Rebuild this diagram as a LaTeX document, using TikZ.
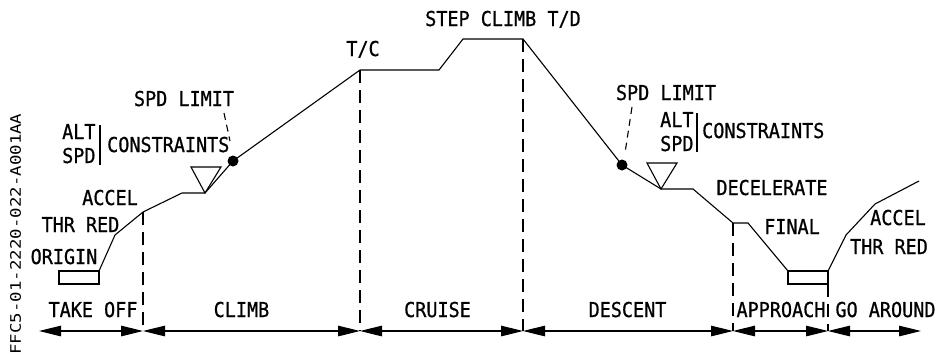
\documentclass[tikz,border=0pt]{standalone}
\usepackage{fontspec}
\newfontfamily\cadfont{DejaVu Sans Mono}[FakeStretch=0.9,FakeBold=0.8]
\newfontfamily\tagfont{DejaVu Sans Mono}[FakeStretch=1.2]
\usetikzlibrary{arrows.meta}

\begin{document}
\begin{tikzpicture}[x=1pt,y=-1pt,>={Triangle[length=22pt,width=10.5pt]},profile/.style={line width=1.1pt},guide/.style={line width=1.2pt,dash pattern=on 13pt off 7pt},leader/.style={line width=1.1pt,dash pattern=on 7pt off 5pt},phase/.style={<->,line width=1.2pt},label/.style={font=\cadfont\fontsize{20.5}{24}\selectfont,inner sep=0pt,anchor=base},yieldmark/.style={line width=1.1pt},dot/.style={fill=black}]
\useasboundingbox (0,0) rectangle (938,360);
% flight profile
\coordinate (O1) at (59,271); \coordinate (O2) at (99,271); \coordinate (O3) at (99,284);
\coordinate (TR) at (115,235); \coordinate (AC) at (143,212); \coordinate (C1) at (182,193); \coordinate (C2) at (205,193);
\coordinate (SL1) at (233,161); \coordinate (TC) at (360,70); \coordinate (S1) at (439,70); \coordinate (S2) at (463,39); \coordinate (TD) at (523,39);
\coordinate (SL2) at (622,165); \coordinate (D1) at (661,189); \coordinate (D2) at (693,189); \coordinate (AP) at (733,223); \coordinate (F1) at (748,223);
\coordinate (L1) at (788,271); \coordinate (L2) at (828,271); \coordinate (L3) at (828,284); \coordinate (G1) at (846,235); \coordinate (G2) at (875,204); \coordinate (G3) at (919,181);
\draw[profile] (O1) rectangle (O3); \draw[profile] (L1) rectangle (L3);
\draw[profile] (O2)--(TR)--(AC)--(C1)--(C2)--(SL1)--(TC)--(S1)--(S2)--(TD)--(SL2)--(D1)--(D2)--(AP)--(F1)--(L1);
\draw[profile] (L2)--(G1)--(G2)--(G3);
\draw[yieldmark] (191,167)--(221,167)--(C2)--cycle; \draw[yieldmark] (647,163)--(677,163)--(D1)--cycle;
\fill[dot] (SL1) circle[radius=5.5pt]; \fill[dot] (SL2) circle[radius=5.5pt];
% phase limits
\coordinate (P0) at (39,331); \coordinate (P1) at (143,331); \coordinate (P2) at (360,331); \coordinate (P3) at (523,331);
\coordinate (P4) at (733,331); \coordinate (P5) at (828,331); \coordinate (P6) at (921,331);
\draw[guide] (AC)--(P1); \draw[guide] (TC)--(P2); \draw[guide] (TD)--(P3); \draw[guide] (AP)--(P4); \draw[guide] (L3)--(P5);
\draw[phase] (P0)--(P1); \draw[phase] (P1)--(P2); \draw[phase] (P2)--(P3); \draw[phase] (P3)--(P4); \draw[phase] (P4)--(P5); \draw[phase] (P5)--(P6);
\node[label] (takeoff) at (93,317) {TAKE OFF}; \node[label] (climb) at (241.5,317) {CLIMB}; \node[label] (cruise) at (437.5,317) {CRUISE};
\node[label] (descent) at (627.5,317) {DESCENT}; \node[label] (approach) at (781,317) {APPROACH}; \node[label] (goaround) at (885.5,317) {GO AROUND};
% profile labels
\node[label] (tclabel) at (363,56) {T/C}; \node[label] (steplabel) at (503,26) {STEP CLIMB T/D};
\node[label] (origin) at (64,264) {ORIGIN}; \node[label] (thrred1) at (80.5,232) {THR RED}; \node[label] (accel1) at (110,205) {ACCEL};
\node[label] (spdlim1) at (184,106) {SPD LIMIT}; \draw[leader] (224,113)--(230,141);
\node[label,anchor=base west] (alt1) at (62,139) {ALT}; \node[label,anchor=base west] (spd1) at (62,163) {SPD};
\draw[line width=1.3pt] (100,125)--(100,165); \node[label,anchor=base west] (cons1) at (107,152) {CONSTRAINTS};
\node[label] (spdlim2) at (666,100) {SPD LIMIT}; \draw[leader] (632,107)--(625,153);
\node[label,anchor=base west] (alt2) at (660,127) {ALT}; \node[label,anchor=base west] (spd2) at (660,151) {SPD};
\draw[line width=1.3pt] (697,113)--(697,152); \node[label,anchor=base west] (cons2) at (702,138) {CONSTRAINTS};
\node[label] (decel) at (772,195) {DECELERATE}; \node[label] (final) at (792,234) {FINAL};
\node[label] (accel2) at (898,225) {ACCEL}; \node[label] (thrred2) at (889,254) {THR RED};
\node[font=\tagfont\fontsize{14.5}{16}\selectfont,inner sep=0pt,rotate=90] (tag) at (15.5,234) {FFC5-01-2220-022-A001AA};
\end{tikzpicture}
\end{document}
